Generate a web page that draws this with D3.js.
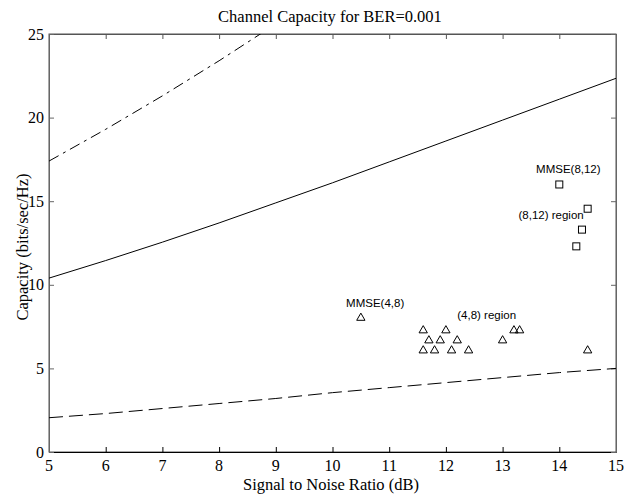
<!DOCTYPE html>
<html>
<head>
<meta charset="utf-8">
<script src="https://cdn.jsdelivr.net/npm/d3@7"></script>
<style>
  body { margin: 0; background: #fff; }
  svg { display: block; }
</style>
</head>
<body>
<div id="main"></div>
<script>
// SNR axis (dB)
const snr = [5, 6, 7, 8, 9, 10, 11, 12, 13, 14, 15];

// capacity curves
const upperCurve = [17.4, 19.3, 21.3, 23.4, 25.6];          // dash-dot, leaves the box near 8.6 dB
const middleCurve = [10.4, 11.45, 12.55, 13.7, 14.9, 16.1, 17.35, 18.6, 19.85, 21.1, 22.35];
const lowerCurve = [2.05, 2.3, 2.6, 2.9, 3.2, 3.55, 3.85, 4.15, 4.45, 4.75, 5.0];

// (4,8) points, triangles
const triX = [10.5, 11.6, 12.0, 11.7, 11.9, 12.2, 11.6, 11.8, 12.1, 12.4, 13.0, 13.2, 13.3, 14.5];
const triY = [8.05, 7.3, 7.3, 6.7, 6.7, 6.7, 6.1, 6.1, 6.1, 6.1, 6.7, 7.3, 7.3, 6.1];

// (8,12) points, squares
const sqX = [14.0, 14.5, 14.4, 14.3];
const sqY = [16.0, 14.55, 13.3, 12.3];

// text notes: label, x, y (baseline)
const notes = [
  ["MMSE(8,12)", 13.59, 16.67],
  ["(8,12) region", 13.28, 13.94],
  ["MMSE(4,8)", 10.24, 8.65],
  ["(4,8) region", 12.2, 7.95]
];

const xTicks = [5, 6, 7, 8, 9, 10, 11, 12, 13, 14, 15];
const yTicks = [0, 5, 10, 15, 20, 25];

const W = 636, H = 496;
const pLeft = 49, pRight = 616, pTop = 34, pBottom = 452;
const serif = "'Liberation Serif', 'Times New Roman', serif";
const sans = "'Liberation Sans', Arial, sans-serif";

const svg = d3.select("#main").append("svg").attr("width", W).attr("height", H);

const x = d3.scaleLinear().domain([5, 15]).range([pLeft, pRight]);
const y = d3.scaleLinear().domain([0, 25]).range([pBottom, pTop]);

svg.append("defs").append("clipPath").attr("id", "clip")
  .append("rect")
  .attr("x", pLeft).attr("y", pTop)
  .attr("width", pRight - pLeft).attr("height", pBottom - pTop);

// box
svg.append("rect")
  .attr("x", pLeft).attr("y", pTop)
  .attr("width", pRight - pLeft).attr("height", pBottom - pTop)
  .attr("fill", "none").attr("stroke", "#555").attr("stroke-width", 1);

// inward ticks on all four sides
const tickLen = 5;
const axB = d3.axisBottom(x).tickValues(xTicks).tickSize(-tickLen).tickFormat("");
const axT = d3.axisTop(x).tickValues(xTicks).tickSize(-tickLen).tickFormat("");
const axL = d3.axisLeft(y).tickValues(yTicks).tickSize(-tickLen).tickFormat("");
const axR = d3.axisRight(y).tickValues(yTicks).tickSize(-tickLen).tickFormat("");

function styleAxis(g, col) {
  g.select(".domain").attr("stroke", col);
  g.selectAll(".tick line").attr("stroke", col);
}
svg.append("g").attr("transform", "translate(0," + pBottom + ")").call(axB).call(styleAxis, "#000");
svg.append("g").attr("transform", "translate(0," + pTop + ")").call(axT).call(styleAxis, "#555");
svg.append("g").attr("transform", "translate(" + pLeft + ",0)").call(axL).call(styleAxis, "#666");
svg.append("g").attr("transform", "translate(" + pRight + ",0)").call(axR).call(styleAxis, "#666");

// tick labels
svg.selectAll(".xlab").data(xTicks).enter().append("text")
  .attr("x", d => x(d)).attr("y", pBottom + 18.5)
  .attr("text-anchor", "middle")
  .style("font-family", serif).style("font-size", "16px")
  .text(d => d);

svg.selectAll(".ylab").data(yTicks).enter().append("text")
  .attr("x", pLeft - 5).attr("y", d => y(d) + 5.5)
  .attr("text-anchor", "end")
  .style("font-family", serif).style("font-size", "16px")
  .text(d => d);

// titles
svg.append("text")
  .attr("x", 330).attr("y", 21.5)
  .attr("text-anchor", "middle")
  .style("font-family", serif).style("font-size", "16.5px")
  .text("Channel Capacity for BER=0.001");

svg.append("text")
  .attr("x", 331).attr("y", 490)
  .attr("text-anchor", "middle")
  .style("font-family", serif).style("font-size", "16.5px")
  .text("Signal to Noise Ratio (dB)");

svg.append("text")
  .attr("transform", "translate(28,247) rotate(-90)")
  .attr("text-anchor", "middle")
  .style("font-family", serif).style("font-size", "16.5px")
  .text("Capacity (bits/sec/Hz)");

// curves
const line = d3.line().x(d => x(d[0])).y(d => y(d[1]));
const plot = svg.append("g").attr("clip-path", "url(#clip)");

function curve(vals, dash) {
  plot.append("path")
    .datum(vals.map((v, i) => [snr[i], v]))
    .attr("d", line)
    .attr("fill", "none")
    .attr("stroke", "#000")
    .attr("stroke-width", 1)
    .attr("stroke-dasharray", dash);
}
curve(upperCurve, "11,5,3,5");
curve(middleCurve, null);
curve(lowerCurve, "14,6");

// triangles
const tri = d3.symbol().type(d3.symbolTriangle).size(30);
svg.selectAll(".tri").data(triX.map((v, i) => [v, triY[i]])).enter().append("path")
  .attr("d", tri)
  .attr("transform", d => "translate(" + x(d[0]) + "," + (y(d[1]) + 0.5) + ")")
  .attr("fill", "none").attr("stroke", "#000").attr("stroke-width", 1);

// squares
svg.selectAll(".sq").data(sqX.map((v, i) => [v, sqY[i]])).enter().append("rect")
  .attr("x", d => x(d[0]) - 3.5).attr("y", d => y(d[1]) - 3.5)
  .attr("width", 7).attr("height", 7)
  .attr("fill", "none").attr("stroke", "#000").attr("stroke-width", 1);

// notes
svg.selectAll(".note").data(notes).enter().append("text")
  .attr("x", d => x(d[1])).attr("y", d => y(d[2]))
  .style("font-family", sans).style("font-size", "11.5px")
  .text(d => d[0]);
</script>
</body>
</html>
